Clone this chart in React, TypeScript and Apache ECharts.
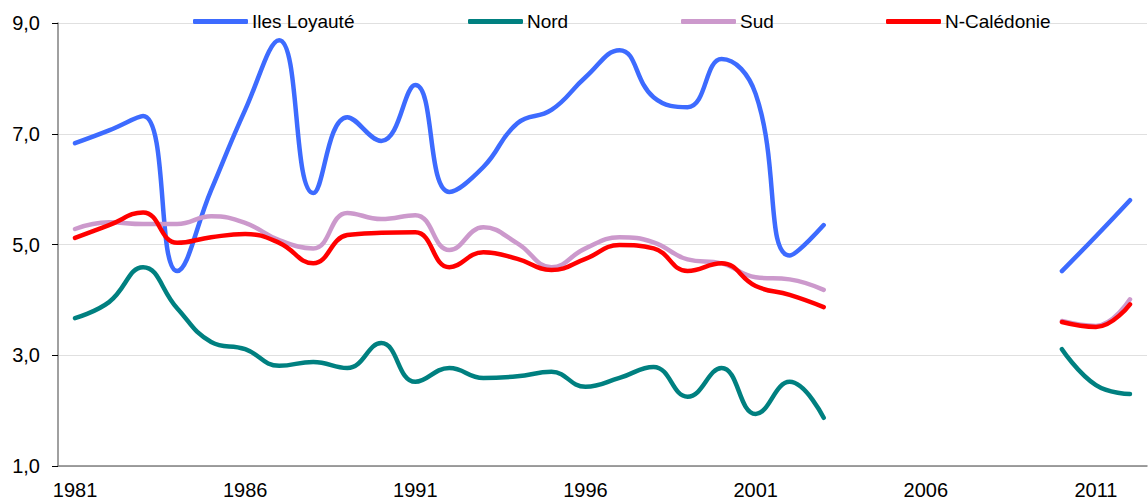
import React, { useEffect, useRef } from "react";
import * as echarts from "echarts";

const years: string[] = [];
for (let y = 1981; y <= 2012; y++) years.push(String(y));

const gap = [null, null, null, null, null, null];

const ilesLoyaute: (number | null)[] = [
  6.83, 7.06, 7.32, 4.52, 5.98, 7.43, 8.69, 5.93, 7.30, 6.87,
  7.88, 5.95, 6.40, 7.19, 7.43, 8.02, 8.51, 7.66, 7.48, 8.35,
  7.72, 4.80, 5.35, ...gap, 4.52, 5.15, 5.80,
];
const nord: (number | null)[] = [
  3.67, 3.96, 4.59, 3.85, 3.24, 3.11, 2.81, 2.88, 2.77, 3.22,
  2.52, 2.77, 2.59, 2.62, 2.70, 2.43, 2.59, 2.79, 2.25, 2.77,
  1.94, 2.52, 1.87, ...gap, 3.11, 2.46, 2.30,
];
const sud: (number | null)[] = [
  5.28, 5.40, 5.37, 5.37, 5.51, 5.39, 5.08, 4.93, 5.57, 5.46,
  5.53, 4.90, 5.31, 5.02, 4.59, 4.93, 5.13, 5.04, 4.73, 4.66,
  4.41, 4.37, 4.18, ...gap, 3.62, 3.53, 4.01,
];
const nCaledonie: (number | null)[] = [
  5.12, 5.35, 5.58, 5.03, 5.13, 5.19, 5.03, 4.66, 5.17, 5.21,
  5.22, 4.59, 4.86, 4.74, 4.54, 4.74, 4.99, 4.93, 4.52, 4.66,
  4.25, 4.09, 3.87, ...gap, 3.60, 3.51, 3.92,
];

const seriesNames = ["Iles Loyauté", "Nord", "Sud", "N-Calédonie"];
const seriesColors = ["#3D6BFF", "#008080", "#CC99CC", "#FF0000"];
const seriesData = [ilesLoyaute, nord, sud, nCaledonie];
const legendLefts = [193, 468, 681, 886];

export default function App() {
  const ref = useRef<HTMLDivElement>(null);
  useEffect(() => {
    document.body.style.margin = "0";
    const chart = echarts.init(ref.current!, null, { renderer: "svg" });
    const font = "Liberation Sans, Arial, sans-serif";
    chart.setOption({
      animation: false,
      backgroundColor: "#ffffff",
      textStyle: { fontFamily: font },
      legend: seriesNames.map((n, i) => ({
        data: [n],
        left: legendLefts[i],
        top: 12,
        icon: "roundRect",
        itemWidth: 55,
        itemHeight: 5,
        itemGap: 0,
        padding: 0,
        textStyle: { fontSize: 19, color: "#000", fontFamily: font, padding: [0, 0, 0, -1] },
      })),
      grid: { left: 58, right: 1, top: 23, bottom: 37, containLabel: false },
      xAxis: {
        type: "category",
        data: years,
        boundaryGap: true,
        axisLine: { lineStyle: { color: "#808080", width: 1.5 } },
        axisTick: { interval: 4, length: 6, lineStyle: { color: "#000" } },
        axisLabel: { interval: 4, fontSize: 20, color: "#000", margin: 14, fontFamily: font },
        splitLine: { show: false },
      },
      yAxis: {
        type: "value",
        min: 1,
        max: 9,
        interval: 2,
        axisLine: { show: true, lineStyle: { color: "#808080", width: 1.5 } },
        axisTick: { show: true, length: 6, lineStyle: { color: "#000" } },
        axisLabel: {
          fontSize: 20,
          color: "#000",
          margin: 18,
          fontFamily: font,
          formatter: (v: number) => v.toFixed(1).replace(".", ","),
        },
        splitLine: { lineStyle: { color: "#E0E0E0", width: 1 } },
      },
      series: seriesNames.map((n, i) => ({
        name: n,
        type: "line",
        data: seriesData[i],
        smooth: 0.45,
        symbol: "none",
        showSymbol: false,
        connectNulls: false,
        itemStyle: { color: seriesColors[i] },
        lineStyle: { color: seriesColors[i], width: 4.5, cap: "round" },
      })),
    });
    return () => chart.dispose();
  }, []);
  return <div ref={ref} style={{ width: 1148, height: 503 }} />;
}
